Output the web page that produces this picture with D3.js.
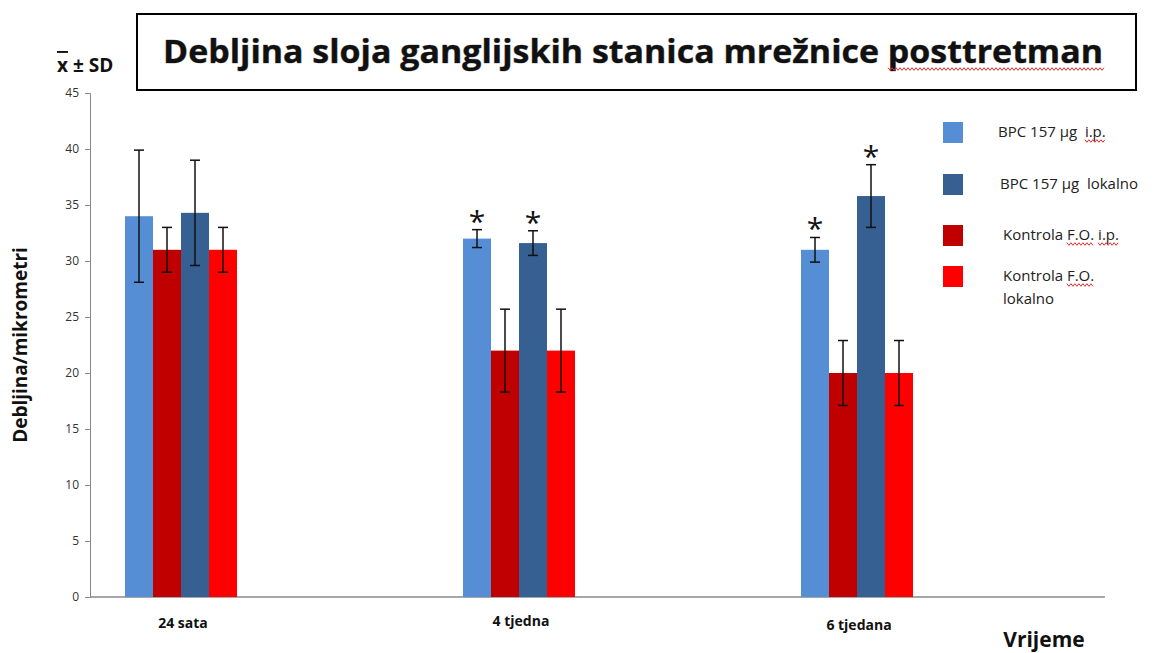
<!DOCTYPE html>
<html>
<head>
<meta charset="utf-8">
<script src="https://cdn.jsdelivr.net/npm/d3@7"></script>
<style>
  body { margin: 0; background: #fff; }
  text { font-family: "Open Sans", "Noto Sans", sans-serif; white-space: pre; }
</style>
</head>
<body>
<svg width="1154" height="653"></svg>
<script>
var categories = ["24 sata", "4 tjedna", "6 tjedana"];
var series = ["BPC 157 µg  i.p.", "Kontrola F.O. i.p.", "BPC 157 µg  lokalno", "Kontrola F.O. lokalno"];
var means = [
  [34.0, 31.0, 34.3, 31.0],
  [32.0, 22.0, 31.6, 22.0],
  [31.0, 20.0, 35.8, 20.0]
];
var sds = [
  [5.9, 2.0, 4.7, 2.0],
  [0.8, 3.7, 1.1, 3.7],
  [1.1, 2.9, 2.8, 2.9]
];
var stars = [
  [false, false, false, false],
  [true, false, true, false],
  [true, false, true, false]
];
var yTicks = [0, 5, 10, 15, 20, 25, 30, 35, 40, 45];
var colors = ["#558ed5", "#c00000", "#376092", "#ff0000"];
// legend order differs from bar order
var legendOrder = [0, 2, 1, 3];

var svg = d3.select("svg");
var plotLeft = 90, plotRight = 1105, plotTop = 93, plotBottom = 597;

var x = d3.scalePoint().domain(categories).range([181, 857]);
var xs = d3.scaleBand().domain(d3.range(4)).range([-56, 56]).padding(0);
var y = d3.scaleLinear().domain([0, 45]).range([plotBottom, plotTop]);

// spell-check squiggle
function squiggle(x0, x1, yy) {
  var pts = [];
  for (var i = 0, px = x0; px <= x1; i++, px += 2) pts.push([px, yy + (i % 2 ? 1.3 : -1.3)]);
  svg.append("path").attr("d", d3.line()(pts))
      .attr("fill", "none").attr("stroke", "#e03030").attr("stroke-width", 1);
}
// squiggle under a substring of a text element
function squiggleUnder(t, from, n, dy) {
  var node = t.node();
  var p = node.getStartPositionOfChar(from);
  var w = node.getSubStringLength(from, n);
  squiggle(p.x, p.x + w, p.y + dy);
}

// title box
svg.append("rect")
    .attr("x", 137).attr("y", 14).attr("width", 999).attr("height", 76)
    .attr("fill", "#fff").attr("stroke", "#000").attr("stroke-width", 2);
svg.append("text")
    .attr("x", 633).attr("y", 63)
    .attr("text-anchor", "middle")
    .attr("font-size", 32).attr("font-weight", "bold")
    .attr("font-family", "Lato, 'Open Sans', sans-serif")
    .attr("textLength", 940).attr("lengthAdjust", "spacingAndGlyphs")
    .attr("fill", "#111")
    .style("paint-order", "stroke").attr("stroke", "#777").attr("stroke-width", 0.6)
    .text("Debljina sloja ganglijskih stanica mrežnice posttretman");
squiggle(888, 1104, 69);

// y axis
var yAxis = svg.append("g")
    .attr("transform", "translate(" + plotLeft + ",0)")
    .call(d3.axisLeft(y).tickValues(yTicks).tickSize(5).tickPadding(6));
yAxis.select(".domain").attr("stroke", "#888");
yAxis.selectAll(".tick line").attr("stroke", "#888");
yAxis.selectAll(".tick text").attr("font-size", 12).attr("fill", "#333")
    .attr("font-family", "'Open Sans', sans-serif");

// x axis line
svg.append("line")
    .attr("x1", plotLeft).attr("x2", plotRight).attr("y1", plotBottom).attr("y2", plotBottom)
    .attr("stroke", "#888").attr("stroke-width", 1.5);

// bars
var flat = [];
categories.forEach(function(c, i) {
  series.forEach(function(s, j) {
    flat.push({cat: c, s: j, v: means[i][j], sd: sds[i][j], star: stars[i][j]});
  });
});

svg.append("g").selectAll("rect")
  .data(flat)
  .enter().append("rect")
    .attr("x", function(d) { return x(d.cat) + xs(d.s); })
    .attr("y", function(d) { return y(d.v); })
    .attr("width", xs.bandwidth())
    .attr("height", function(d) { return plotBottom - y(d.v); })
    .attr("fill", function(d) { return colors[d.s]; });

// error bars
var eb = svg.append("g").attr("stroke", "#111").attr("stroke-width", 1.5);
flat.forEach(function(d) {
  var cx = x(d.cat) + xs(d.s) + xs.bandwidth() / 2;
  var y1 = y(d.v + d.sd), y2 = y(d.v - d.sd);
  eb.append("line").attr("x1", cx).attr("x2", cx).attr("y1", y1).attr("y2", y2);
  eb.append("line").attr("x1", cx - 5).attr("x2", cx + 5).attr("y1", y1).attr("y2", y1);
  eb.append("line").attr("x1", cx - 5).attr("x2", cx + 5).attr("y1", y2).attr("y2", y2);
  if (d.star) {
    svg.append("text")
        .attr("x", cx).attr("y", y1 + 2)
        .attr("text-anchor", "middle")
        .attr("font-size", 30).attr("font-family", "'Liberation Sans', sans-serif")
        .attr("fill", "#111")
        .text("*");
  }
});

// x labels
var labelY = [628, 626, 630];
categories.forEach(function(c, i) {
  svg.append("text")
      .attr("x", x(c) + 2).attr("y", labelY[i])
      .attr("text-anchor", "middle")
      .attr("font-size", 14).attr("font-weight", "bold")
      .attr("font-family", "Lato, sans-serif")
      .attr("fill", "#111")
      .text(c);
});

// axis titles
svg.append("text")
    .attr("transform", "translate(27,345) rotate(-90)")
    .attr("text-anchor", "middle")
    .attr("font-size", 19).attr("font-weight", "bold")
    .attr("font-family", "Lato, sans-serif")
    .attr("fill", "#111")
    .text("Debljina/mikrometri");
svg.append("text")
    .attr("x", 1044).attr("y", 647)
    .attr("text-anchor", "middle")
    .attr("font-size", 21).attr("font-weight", "bold")
    .attr("font-family", "Lato, sans-serif")
    .attr("fill", "#111")
    .text("Vrijeme");

var sd = svg.append("text")
    .attr("x", 57).attr("y", 72)
    .attr("font-size", 19).attr("font-weight", "bold")
    .attr("fill", "#111");
sd.append("tspan").style("text-decoration", "overline").text("x");
sd.append("tspan").text(" ± SD");

// legend
var legY = [122, 174, 225, 266];
var legTx = [998, 1000, 1003, 1003];
var lg = svg.append("g");
legendOrder.forEach(function(si, k) {
  lg.append("rect")
      .attr("x", 943).attr("y", legY[k]).attr("width", 20).attr("height", 21)
      .attr("fill", colors[si]);
  var t = lg.append("text")
      .attr("x", legTx[k]).attr("y", legY[k] + 15)
      .attr("font-size", 15).attr("font-family", "Lato, sans-serif")
      .attr("fill", "#222");
  if (si === 3) {
    t.text("Kontrola F.O.");
    squiggleUnder(t, 9, 4, 4);
    lg.append("text").attr("x", legTx[k]).attr("y", legY[k] + 38)
        .attr("font-size", 15).attr("font-family", "Lato, sans-serif")
        .attr("fill", "#222").text("lokalno");
  } else {
    t.text(series[si]);
    if (si === 0) squiggleUnder(t, 12, 4, 4);
    if (si === 1) { squiggleUnder(t, 9, 4, 4); squiggleUnder(t, 14, 4, 4); }
  }
});
</script>
</body>
</html>
